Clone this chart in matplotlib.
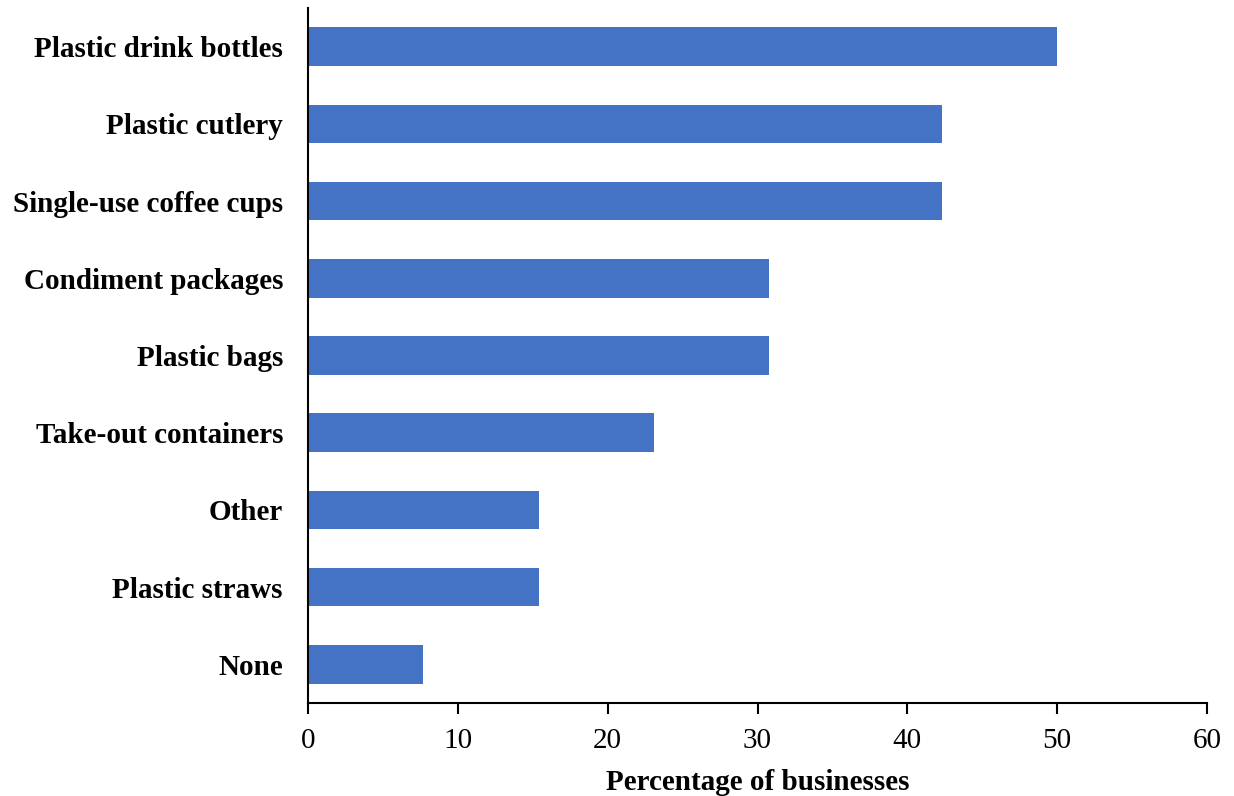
import matplotlib.pyplot as plt

categories = ['Plastic drink bottles', 'Plastic cutlery', 'Single-use coffee cups',
              'Condiment packages', 'Plastic bags', 'Take-out containers',
              'Other', 'Plastic straws', 'None']
values = [50.0, 42.3, 42.3, 30.8, 30.8, 23.1, 15.4, 15.4, 7.7]
xticks = [0, 10, 20, 30, 40, 50, 60]

plt.rcParams['font.family'] = ['Liberation Serif', 'DejaVu Serif']

fig = plt.figure(figsize=(12.34, 7.96), dpi=100)
ax = fig.add_axes([308 / 1234, 1 - 703 / 796, 899 / 1234, 695 / 796])

ypos = list(range(len(categories)))[::-1]
ax.barh(ypos, values, height=0.5, color='#4472C4')

ax.set_xlim(0, 60)
ax.set_ylim(-0.5, len(categories) - 0.5)
ax.set_xticks(xticks)
ax.set_xticklabels([str(t) for t in xticks], fontsize=21)
ax.set_yticks(ypos)
ax.set_yticklabels(categories, fontsize=21, fontweight='bold')
ax.tick_params(axis='y', length=0, pad=18)
ax.tick_params(axis='x', length=8, width=1.5, direction='out', pad=10)

for s in ['top', 'right']:
    ax.spines[s].set_visible(False)
ax.spines['left'].set_linewidth(1.5)
ax.spines['bottom'].set_linewidth(1.5)

ax.set_xlabel('Percentage of businesses', fontsize=21, fontweight='bold', labelpad=11)

fig.savefig('out.png', dpi=100)
